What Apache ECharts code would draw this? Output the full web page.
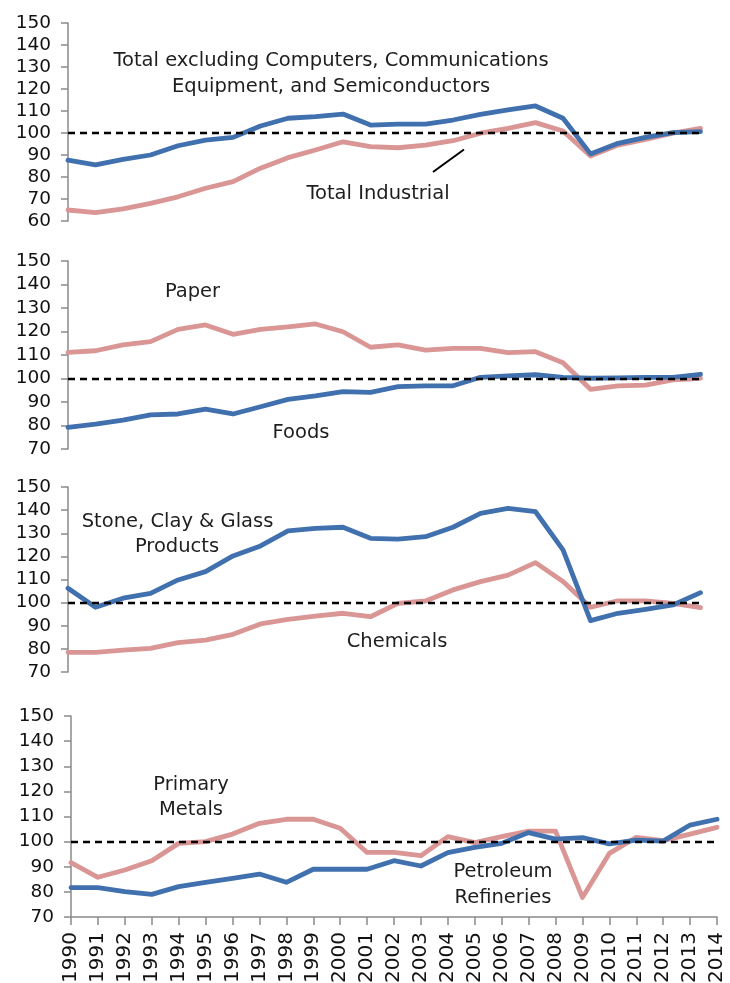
<!DOCTYPE html>
<html>
<head>
<meta charset="utf-8">
<script src="https://cdn.jsdelivr.net/npm/echarts@6/dist/echarts.min.js"></script>
<style>
html,body{margin:0;padding:0;background:#fff;}
#c{width:730px;height:983px;}
</style>
</head>
<body>
<div id="c"></div>
<script>
// Categories
const yearsTop = ['1990','1991','1992','1993','1994','1995','1996','1997','1998','1999','2000','2001','2002','2003','2004','2005','2006','2007','2008','2009','2010','2011','2012','2013'];
const yearsBottom = ['1990','1991','1992','1993','1994','1995','1996','1997','1998','1999','2000','2001','2002','2003','2004','2005','2006','2007','2008','2009','2010','2011','2012','2013','2014'];

// Panel 1
const totalExcl = [87.7,85.5,88,90,94.2,96.8,98,103.2,106.7,107.4,108.6,103.6,104,104,105.9,108.5,110.5,112.3,106.7,90.5,95.3,98,100.2,100.6];
const totalIndustrial = [65,63.8,65.5,68,71,74.9,77.9,84,88.8,92.3,96,93.8,93.3,94.5,96.5,99.9,102.1,104.7,100.9,89.5,94.5,97.1,99.9,102.1];
// Panel 2
const paper = [111.1,111.8,114.3,115.7,120.9,122.8,118.8,120.9,122,123.2,119.9,113.3,114.3,112.1,112.8,112.8,111,111.4,106.7,95.4,96.9,97.2,99.4,100.1];
const foods = [79.2,80.6,82.3,84.5,84.9,87,84.9,88,91.1,92.6,94.4,94.1,96.5,96.9,96.9,100.5,101.1,101.6,100.5,100.1,100.3,100.5,100.5,101.8];
// Panel 3
const stoneClayGlass = [106.2,98,101.9,104,109.8,113.4,120.2,124.5,131,132.1,132.6,127.8,127.5,128.5,132.6,138.6,140.8,139.3,122.8,92.2,95.4,97.1,99,104.3];
const chemicals = [78.5,78.5,79.5,80.2,82.7,83.8,86.3,90.8,92.8,94.2,95.4,93.9,99.7,100.7,105.5,109.1,111.9,117.3,109.1,98,100.8,100.8,99.7,97.8];
// Panel 4
const primaryMetals = [91.6,85.8,88.7,92.4,99.3,100,103,107.3,108.9,108.9,105.3,95.7,95.7,94.4,102,99.6,102,104.2,104.2,77.8,95.3,101.7,100.4,103,105.7];
const petroleum = [81.7,81.7,80.1,79,82.1,83.8,85.4,87.1,83.8,89,89,89,92.4,90.3,95.6,97.7,99.3,103.6,101,101.6,99.1,100.6,100.2,106.6,108.9];

const refLevel = 100;
const yMins = [60,70,70,70];
const yMax = 150;

const BLUE = '#4070ae';
const PINK = '#d99694';
const FONT = 'DejaVu Sans';

const grids = [
  {left:68, right:29.5, top:23, height:198, outerBoundsMode:'none', containLabel:false},
  {left:68, right:29.5, top:261, height:188, outerBoundsMode:'none', containLabel:false},
  {left:68, right:29.5, top:487, height:185, outerBoundsMode:'none', containLabel:false},
  {left:71, right:13, top:716, height:201, outerBoundsMode:'none', containLabel:false}
];

const xAxes = grids.map((g,i)=>({
  type:'category', gridIndex:i, boundaryGap:false,
  data: i===3 ? yearsBottom : yearsTop,
  axisLine:{show:i===3, lineStyle:{color:'#8a8a8a', width:1.5}},
  axisTick:{show:i===3, alignWithLabel:true, length:8, lineStyle:{color:'#8a8a8a', width:1.5}},
  axisLabel:{show:i===3, rotate:90, fontFamily:FONT, fontSize:20, color:'#111', margin:15, interval:0},
  splitLine:{show:false}
}));

const yAxes = grids.map((g,i)=>({
  type:'value', gridIndex:i, min:yMins[i], max:yMax, interval:10,
  axisLine:{show:true, lineStyle:{color:'#8a8a8a', width:1.5}},
  axisTick:{show:true, inside:false, length:7, lineStyle:{color:'#8a8a8a', width:1.5}},
  axisLabel:{fontFamily:FONT, fontSize:18.5, color:'#111', margin:17},
  splitLine:{show:false}
}));

function mk(){
  return {
    silent:true, symbol:['none','none'],
    label:{show:false},
    lineStyle:{color:'#000', type:[7,5], width:2.4},
    data:[{yAxis:refLevel}]
  };
}

function line(name, data, color, idx, withMark){
  const s = {
    name, type:'line', data, xAxisIndex:idx, yAxisIndex:idx,
    symbol:'none', smooth:false, animation:false,
    lineStyle:{color, width:4.8, cap:'round', join:'round'},
    itemStyle:{color}
  };
  if(withMark) s.markLine = mk();
  return s;
}

const series = [
  line('Total Industrial', totalIndustrial, PINK, 0, false),
  line('Total excluding Computers, Communications Equipment, and Semiconductors', totalExcl, BLUE, 0, true),
  line('Paper', paper, PINK, 1, false),
  line('Foods', foods, BLUE, 1, true),
  line('Chemicals', chemicals, PINK, 2, false),
  line('Stone, Clay & Glass Products', stoneClayGlass, BLUE, 2, true),
  line('Primary Metals', primaryMetals, PINK, 3, false),
  line('Petroleum Refineries', petroleum, BLUE, 3, true)
];

const TXT = {fontFamily:FONT, fontSize:19.5, fill:'#1e1e1e', textAlign:'center', textVerticalAlign:'middle'};
function t(text, x, y){ return {type:'text', x, y, style:Object.assign({text}, TXT), z:100}; }

const graphic = [
  t('Total excluding Computers, Communications', 331, 61),
  t('Equipment, and Semiconductors', 331, 86.5),
  t('Total Industrial', 378, 194),
  {type:'line', shape:{x1:433, y1:172, x2:464, y2:149.5}, style:{stroke:'#000', lineWidth:2}, z:100},
  t('Paper', 192.5, 291.5),
  t('Foods', 301, 432.5),
  t('Stone, Clay & Glass', 177.5, 521.5),
  t('Products', 177, 547),
  t('Chemicals', 397, 642),
  t('Primary', 191, 785),
  t('Metals', 191, 810),
  t('Petroleum', 503, 872),
  t('Refineries', 503, 898)
];

const chart = echarts.init(document.getElementById('c'), null, {renderer:'canvas'});
chart.setOption({
  animation:false,
  backgroundColor:'#fff',
  grid:grids,
  xAxis:xAxes,
  yAxis:yAxes,
  series,
  graphic
});
</script>
</body>
</html>
